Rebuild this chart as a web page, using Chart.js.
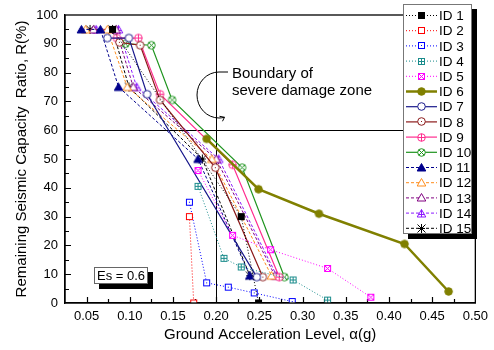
<!DOCTYPE html>
<html>
<head>
<meta charset="utf-8">
<script src="https://cdn.jsdelivr.net/npm/chart.js@4"></script>
<style>
  body { margin: 0; background: #fff; }
  #wrap { width: 494px; height: 350px; }
</style>
</head>
<body>
<div id="wrap"><canvas id="chart" width="494" height="350"></canvas></div>
<script>
// data: x = ground acceleration (g), y = remaining capacity ratio (%)
const seriesNames = ["ID 1", "ID 2", "ID 3", "ID 4", "ID 5", "ID 6", "ID 7", "ID 8",
  "ID 9", "ID 10", "ID 11", "ID 12", "ID 13", "ID 14", "ID 15"];

const id1X = [0.080, 0.229, 0.249];
const id1Y = [95, 30, 0];
const id2X = [0.169, 0.174];
const id2Y = [30, 0];
const id3X = [0.169, 0.189, 0.214, 0.244, 0.288];
const id3Y = [35, 7, 5.5, 3.5, 0.5];
const id4X = [0.179, 0.209, 0.229, 0.289, 0.329];
const id4Y = [40.5, 15.5, 12.5, 8, 1];
const id5X = [0.179, 0.219, 0.263, 0.329, 0.379];
const id5Y = [46, 23.5, 18.5, 12, 2];
const id6X = [0.189, 0.249, 0.319, 0.418, 0.469];
const id6Y = [57, 39.5, 31, 20.5, 4];
const id7X = [0.074, 0.099, 0.120, 0.247];
const id7Y = [92, 92, 72.5, 9];
const id8X = [0.088, 0.112, 0.135, 0.199, 0.254];
const id8Y = [90.5, 89.5, 70.5, 47, 9];
const id9X = [0.085, 0.110, 0.135, 0.219, 0.273];
const id9Y = [92, 92, 72.5, 48, 9];
const id10X = [0.095, 0.125, 0.149, 0.230, 0.279];
const id10Y = [90, 89.5, 70.5, 47, 9];
const id11X = [0.044, 0.066, 0.087, 0.179, 0.239];
const id11Y = [95, 95, 75, 50, 9.5];
const id12X = [0.049, 0.074, 0.097, 0.195, 0.264];
const id12Y = [95, 95, 75, 50, 9.5];
const id13X = [0.058, 0.084, 0.104, 0.200, 0.268];
const id13Y = [95, 95, 75, 50, 9.5];
const id14X = [0.061, 0.087, 0.108, 0.203, 0.270];
const id14Y = [95, 95, 75, 50, 9.5];
const id15X = [0.054, 0.080, 0.099, 0.184, 0.239];
const id15Y = [95, 95, 75, 50, 9.5];

const seriesX = [id1X, id2X, id3X, id4X, id5X, id6X, id7X, id8X, id9X, id10X, id11X, id12X, id13X, id14X, id15X];
const seriesY = [id1Y, id2Y, id3Y, id4Y, id5Y, id6Y, id7Y, id8Y, id9Y, id10Y, id11Y, id12Y, id13Y, id14Y, id15Y];

const DOT = [1, 2], DASH = [3, 2], SOLID = [];
const styles = [
  { color: "#000000", dash: DOT, width: 1, mark: "sqFill" },
  { color: "#ff0000", dash: DOT, width: 1, mark: "sq" },
  { color: "#0000ff", dash: DOT, width: 1, mark: "sqDot" },
  { color: "#1a8c8c", dash: DOT, width: 1, mark: "sqPlus" },
  { color: "#ff00ff", dash: DOT, width: 1, mark: "sqX" },
  { color: "#808000", dash: SOLID, width: 2.5, mark: "circFill" },
  { color: "#1a1a8c", dash: SOLID, width: 1.2, mark: "circ" },
  { color: "#8c1a1a", dash: SOLID, width: 1.2, mark: "circDot" },
  { color: "#ff2d8f", dash: SOLID, width: 1.2, mark: "circPlus" },
  { color: "#1e941e", dash: SOLID, width: 1.2, mark: "circX" },
  { color: "#00008c", dash: DASH, width: 1, mark: "triFill" },
  { color: "#ff8c1a", dash: DASH, width: 1, mark: "tri" },
  { color: "#800080", dash: DASH, width: 1, mark: "tri" },
  { color: "#8c1aff", dash: DASH, width: 1, mark: "triPlus" },
  { color: "#000000", dash: DASH, width: 1, mark: "star" }
];

// little canvases used as point markers
function marker(kind, color) {
  const s = kind.startsWith("sq") ? 9 : 11;
  const cv = document.createElement("canvas");
  cv.width = s; cv.height = s;
  const g = cv.getContext("2d");
  const c = s / 2;
  g.strokeStyle = color;
  g.fillStyle = "#fff";
  g.lineWidth = 1;
  const line = (x1, y1, x2, y2) => { g.beginPath(); g.moveTo(x1, y1); g.lineTo(x2, y2); g.stroke(); };
  if (kind.startsWith("sq")) {
    g.fillStyle = kind === "sqFill" ? color : "#fff";
    g.fillRect(1.5, 1.5, 6, 6);
    g.strokeRect(1.5, 1.5, 6, 6);
    if (kind === "sqDot") { g.fillStyle = color; g.fillRect(4, 4, 1, 1); }
    if (kind === "sqPlus") { line(4.5, 1.5, 4.5, 7.5); line(1.5, 4.5, 7.5, 4.5); }
    if (kind === "sqX") { line(1.5, 1.5, 7.5, 7.5); line(7.5, 1.5, 1.5, 7.5); }
  } else if (kind.startsWith("circ")) {
    const r = 3.8;
    g.beginPath(); g.arc(c, c, r, 0, Math.PI * 2);
    g.fillStyle = kind === "circFill" ? color : "#fff";
    g.fill(); g.stroke();
    if (kind === "circDot") { g.fillStyle = color; g.fillRect(c - 0.5, c - 0.5, 1, 1); }
    if (kind === "circPlus") { line(c, c - r, c, c + r); line(c - r, c, c + r, c); }
    if (kind === "circX") { const d = r * 0.7; line(c - d, c - d, c + d, c + d); line(c + d, c - d, c - d, c + d); }
  } else if (kind.startsWith("tri")) {
    g.beginPath(); g.moveTo(c, 1.5); g.lineTo(s - 1.2, s - 2); g.lineTo(1.2, s - 2); g.closePath();
    g.fillStyle = kind === "triFill" ? color : "#fff";
    g.fill(); g.stroke();
    if (kind === "triPlus") { line(c, 1.5, c, s - 2); line(2.5, c + 1, s - 2.5, c + 1); }
  } else if (kind === "star") {
    line(1.5, 1.5, s - 1.5, s - 1.5); line(s - 1.5, 1.5, 1.5, s - 1.5);
    line(c, 1, c, s - 1); line(2, c, s - 2, c);
  }
  return cv;
}

const datasets = seriesNames.map((name, i) => ({
  label: name,
  data: seriesX[i].map((x, j) => ({ x: x, y: seriesY[i][j] })),
  borderColor: styles[i].color,
  backgroundColor: styles[i].color,
  borderWidth: styles[i].width,
  borderDash: styles[i].dash,
  pointStyle: marker(styles[i].mark, styles[i].color),
  pointRadius: 5,
  showLine: true,
  fill: false,
  tension: 0
}));

const FONT = "'Liberation Sans', Arial, sans-serif";
Chart.defaults.font.family = FONT;
Chart.defaults.color = "#000";

const deco = {
  id: "deco",
  beforeDatasetsDraw(chart) {
    const ctx = chart.ctx, a = chart.chartArea, sx = chart.scales.x, sy = chart.scales.y;
    ctx.save();
    ctx.strokeStyle = "#000";
    ctx.lineWidth = 1;
    // boundary lines
    const vx = Math.round(sx.getPixelForValue(0.2)) + 0.5;
    const hy = Math.round(sy.getPixelForValue(60)) + 0.5;
    ctx.beginPath();
    ctx.moveTo(vx, a.top); ctx.lineTo(vx, a.bottom);
    ctx.moveTo(a.left, hy); ctx.lineTo(a.right, hy);
    ctx.stroke();
    // inward ticks
    ctx.lineWidth = 1.2;
    ctx.beginPath();
    for (let k = 1; k < 19; k++) {
      const v = 0.025 + k * 0.025;
      const px = Math.round(sx.getPixelForValue(v)) + 0.5;
      const len = k % 2 === 1 ? 6 : 4;
      ctx.moveTo(px, a.bottom); ctx.lineTo(px, a.bottom - len);
    }
    for (let v = 5; v < 100; v += 5) {
      const py = Math.round(sy.getPixelForValue(v)) + 0.5;
      const len = v % 10 === 0 ? 6 : 4;
      ctx.moveTo(a.left, py); ctx.lineTo(a.left + len, py);
    }
    ctx.stroke();
    ctx.restore();
  },
  afterDraw(chart) {
    const ctx = chart.ctx, a = chart.chartArea;
    ctx.save();
    // frame
    ctx.strokeStyle = "#000";
    ctx.lineWidth = 1.3;
    ctx.strokeRect(a.left, a.top, a.right - a.left, a.bottom - a.top);

    // annotation
    ctx.fillStyle = "#000";
    ctx.font = "15px " + FONT;
    ctx.textBaseline = "alphabetic";
    ctx.fillText("Boundary of", 232, 78);
    ctx.fillText("severe damage zone", 232, 95);
    ctx.lineWidth = 1;
    ctx.beginPath();
    ctx.moveTo(228, 72);
    ctx.lineTo(219, 72);
    ctx.ellipse(219, 95, 22, 23, 0, -Math.PI / 2, Math.PI * 0.42, true);
    ctx.stroke();
    const ang = Math.PI * 0.42;
    const ex = 219 + 22 * Math.cos(ang), ey = 95 + 23 * Math.sin(ang);
    ctx.beginPath();
    ctx.moveTo(ex, ey);
    ctx.lineTo(ex - 5, ey - 1);
    ctx.moveTo(ex, ey);
    ctx.lineTo(ex - 2, ey + 4);
    ctx.stroke();

    // Es box
    ctx.fillStyle = "#000";
    ctx.fillRect(99, 272, 54, 17);
    ctx.fillStyle = "#fff";
    ctx.fillRect(94, 267, 54, 17);
    ctx.strokeStyle = "#666";
    ctx.strokeRect(94.5, 267.5, 53, 16);
    ctx.fillStyle = "#000";
    ctx.font = "13px " + FONT;
    ctx.textAlign = "center";
    ctx.textBaseline = "middle";
    ctx.fillText("Es = 0.6", 121, 276);

    // legend
    const lx = 403, ly = 4, lw = 69, lh = 230;
    ctx.fillStyle = "#000";
    ctx.fillRect(lx + 5, ly + 5, lw, lh);
    ctx.fillStyle = "#fff";
    ctx.fillRect(lx, ly, lw, lh);
    ctx.strokeStyle = "#777";
    ctx.strokeRect(lx + 0.5, ly + 0.5, lw - 1, lh - 1);
    ctx.textAlign = "left";
    chart.data.datasets.forEach((ds, i) => {
      const y = 15.5 + i * 15.2;
      ctx.save();
      ctx.strokeStyle = ds.borderColor;
      ctx.lineWidth = ds.borderWidth;
      ctx.setLineDash(ds.borderDash);
      ctx.beginPath();
      ctx.moveTo(406, y); ctx.lineTo(437, y);
      ctx.stroke();
      ctx.restore();
      const m = ds.pointStyle;
      ctx.drawImage(m, Math.round(421.5 - m.width / 2), Math.round(y - m.height / 2));
      ctx.fillStyle = "#000";
      ctx.font = "13.5px " + FONT;
      ctx.fillText(ds.label, 439, y + 1);
    });
    ctx.restore();
  }
};

new Chart(document.getElementById("chart"), {
  type: "scatter",
  data: { datasets: datasets },
  options: {
    responsive: false,
    animation: false,
    layout: { padding: { left: 9, top: 15, right: 13, bottom: 2 } },
    plugins: { legend: { display: false }, tooltip: { enabled: false } },
    scales: {
      x: {
        type: "linear",
        min: 0.025,
        max: 0.5,
        grid: { display: false, drawTicks: false },
        border: { color: "#000", width: 1.3 },
        ticks: {
          stepSize: 0.025,
          autoSkip: false,
          maxRotation: 0,
          padding: 6,
          font: { size: 13 },
          callback: v => (Math.round(v * 1000) % 50 === 0 ? v.toFixed(2) : "")
        },
        title: { display: true, text: "Ground Acceleration Level, α(g)", font: { size: 15 }, padding: { top: 2, bottom: 4 } },
        afterFit: s => { s.height = 45; }
      },
      y: {
        min: 0,
        max: 100,
        grid: { display: false, drawTicks: false },
        border: { color: "#000", width: 1.3 },
        ticks: {
          stepSize: 5,
          autoSkip: false,
          padding: 7,
          font: { size: 13 },
          callback: v => (v % 10 === 0 ? v : "")
        },
        title: { display: true, text: "Remaining Seismic Capacity  Ratio, R(%)", font: { size: 15 }, padding: { top: 4, bottom: 4 } },
        afterFit: s => { s.width = 56; }
      }
    }
  },
  plugins: [deco]
});
</script>
</body>
</html>
